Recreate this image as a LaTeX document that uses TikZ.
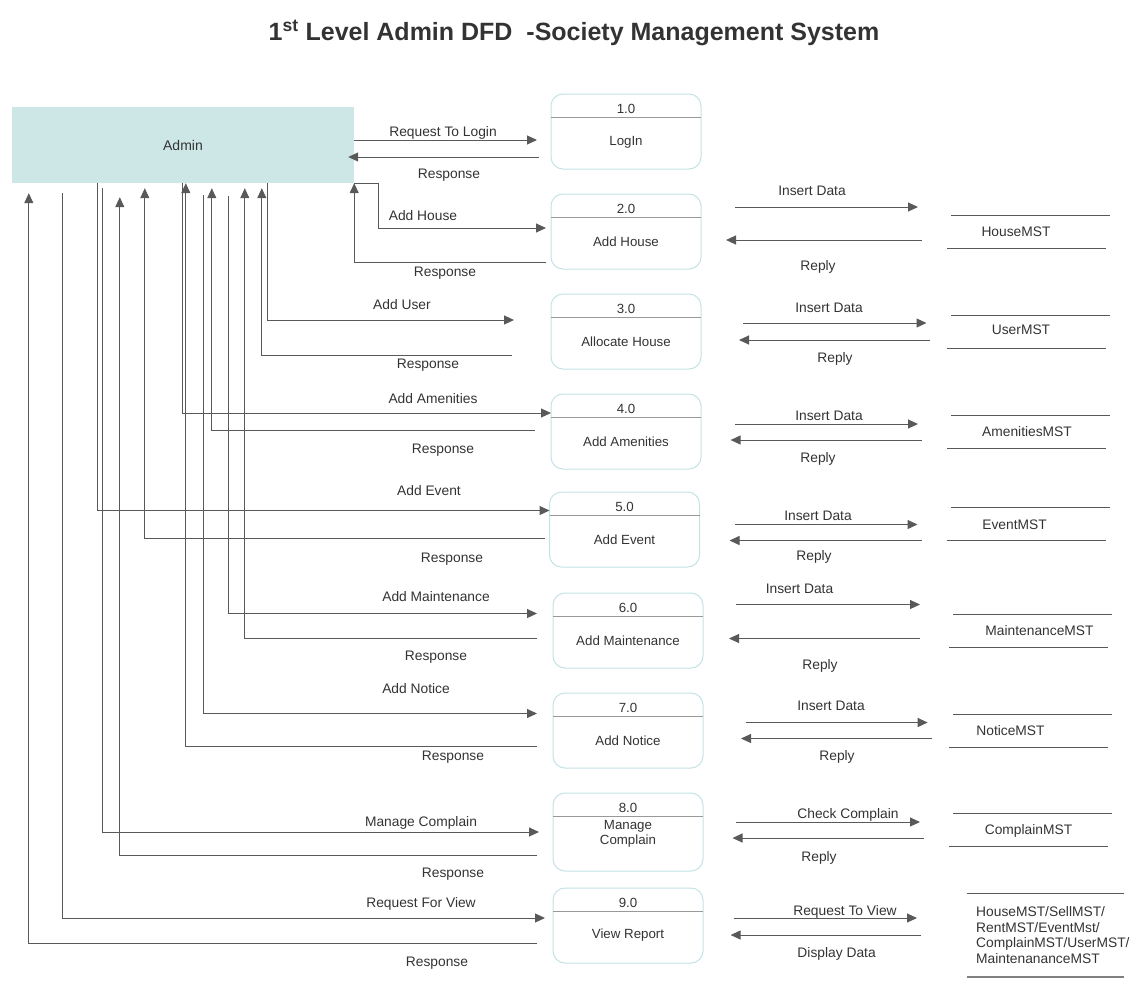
\documentclass[tikz,border=0pt]{standalone}
\usepackage{fontspec}
\setmainfont{Liberation Sans}
\usetikzlibrary{arrows.meta}
\usetikzlibrary{positioning}

\definecolor{adminfill}{RGB}{205,231,231}
\definecolor{procedge}{RGB}{196,226,228}
\definecolor{linegray}{RGB}{89,89,89}
\definecolor{textgray}{RGB}{51,51,51}

\tikzset{
  entity/.style={fill=adminfill,minimum width=342pt,minimum height=76pt,inner sep=0pt,
    font=\fontsize{14}{16}\selectfont,text=textgray},
  process/.style={draw=procedge,line width=1pt,rounded corners=12pt,minimum width=150pt,
    minimum height=75pt,inner sep=0pt,outer sep=0pt},
  proctext/.style={font=\fontsize{13.3}{15}\selectfont,text=textgray,inner sep=0pt,align=center},
  store/.style={minimum width=159pt,minimum height=33pt,inner sep=0pt,outer sep=0pt},
  flow/.style={draw=linegray,line width=1pt,-{Triangle[length=10pt,width=9pt]}},
  storeline/.style={draw=linegray,line width=1pt},
  divider/.style={draw=gray!80,line width=1pt},
  lbl/.style={font=\fontsize{13.8}{16}\selectfont,text=textgray,inner sep=0pt,
    text height=10pt,text depth=0pt},
}

\begin{document}
\begin{tikzpicture}[x=1pt,y=-1pt]
\useasboundingbox (0,0) rectangle (1143,989);

\node[font=\fontsize{25}{28}\selectfont\bfseries,text=textgray] (title) at (574,33)
  {1\textsuperscript{st} Level Admin DFD\ \ -Society Management System};

% external entity
\node[entity] (admin) at (183,145) {Admin};

% processes
\node[process] (p1) at (626,131.5) {};
\node[process] (p2) [below=25pt of p1] {};
\node[process] (p3) [below=25pt of p2] {};
\node[process] (p4) [below=25pt of p3] {};
\node[process] (p5) [below=23pt of p4, xshift=-1.5pt] {};
\node[process] (p6) [below=26pt of p5, xshift=3.5pt] {};
\node[process] (p7) [below=25pt of p6] {};
\node[process,minimum height=78pt] (p8) [below=25pt of p7] {};
\node[process] (p9) [below=17pt of p8] {};

\node[proctext] (n1) at ([yshift=-14.5pt]p1.north) {1.0};
\node[proctext] (n2) at ([yshift=-14.5pt]p2.north) {2.0};
\node[proctext] (n3) at ([yshift=-14.5pt]p3.north) {3.0};
\node[proctext] (n4) at ([yshift=-14.5pt]p4.north) {4.0};
\node[proctext] (n5) at ([yshift=-14.5pt]p5.north) {5.0};
\node[proctext] (n6) at ([yshift=-14.5pt]p6.north) {6.0};
\node[proctext] (n7) at ([yshift=-14.5pt]p7.north) {7.0};
\node[proctext] (n8) at ([yshift=-14.5pt]p8.north) {8.0};
\node[proctext] (n9) at ([yshift=-14.5pt]p9.north) {9.0};

\draw[divider] ([yshift=-23.5pt]p1.north west) -- ([yshift=-23.5pt]p1.north east);
\draw[divider] ([yshift=-23.5pt]p2.north west) -- ([yshift=-23.5pt]p2.north east);
\draw[divider] ([yshift=-23.5pt]p3.north west) -- ([yshift=-23.5pt]p3.north east);
\draw[divider] ([yshift=-23.5pt]p4.north west) -- ([yshift=-23.5pt]p4.north east);
\draw[divider] ([yshift=-23.5pt]p5.north west) -- ([yshift=-23.5pt]p5.north east);
\draw[divider] ([yshift=-23.5pt]p6.north west) -- ([yshift=-23.5pt]p6.north east);
\draw[divider] ([yshift=-23.5pt]p7.north west) -- ([yshift=-23.5pt]p7.north east);
\draw[divider] ([yshift=-23.5pt]p8.north west) -- ([yshift=-23.5pt]p8.north east);
\draw[divider] ([yshift=-23.5pt]p9.north west) -- ([yshift=-23.5pt]p9.north east);

\node[proctext] (t1) at ([yshift=-48pt]p1.north) {LogIn};
\node[proctext] (t2) at ([yshift=-48pt]p2.north) {Add House};
\node[proctext] (t3) at ([yshift=-48pt]p3.north) {Allocate House};
\node[proctext] (t4) at ([yshift=-48pt]p4.north) {Add Amenities};
\node[proctext] (t5) at ([yshift=-48pt]p5.north) {Add Event};
\node[proctext] (t6) at ([yshift=-48pt]p6.north) {Add Maintenance};
\node[proctext] (t7) at ([yshift=-48pt]p7.north) {Add Notice};
\node[proctext] (t8) at ([yshift=-41pt]p8.north) {Manage\\Complain};
\node[proctext] (t9) at ([yshift=-47pt]p9.north) {View Report};

% data stores
\node[store] (s2) [right=248pt of p2] {};
\node[store] (s3) [right=248pt of p3] {};
\node[store] (s4) [right=248pt of p4] {};
\node[store] (s5) [right=249pt of p5, yshift=5.5pt] {};
\node[store] (s6) [right=248pt of p6] {};
\node[store] (s7) [right=248pt of p7] {};
\node[store] (s8) [right=248pt of p8, yshift=2.5pt] {};
\node[store,minimum width=157pt,minimum height=84pt] (s9) [right=263.7pt of p9, yshift=-9.5pt] {};

\draw[storeline] ([xshift=2pt]s2.north west) -- ([xshift=2pt]s2.north east);
\draw[storeline] ([xshift=-2pt]s2.south west) -- ([xshift=-2pt]s2.south east);
\draw[storeline] ([xshift=2pt]s3.north west) -- ([xshift=2pt]s3.north east);
\draw[storeline] ([xshift=-2pt]s3.south west) -- ([xshift=-2pt]s3.south east);
\draw[storeline] ([xshift=2pt]s4.north west) -- ([xshift=2pt]s4.north east);
\draw[storeline] ([xshift=-2pt]s4.south west) -- ([xshift=-2pt]s4.south east);
\draw[storeline] ([xshift=2pt]s5.north west) -- ([xshift=2pt]s5.north east);
\draw[storeline] ([xshift=-2pt]s5.south west) -- ([xshift=-2pt]s5.south east);
\draw[storeline] ([xshift=2pt]s6.north west) -- ([xshift=2pt]s6.north east);
\draw[storeline] ([xshift=-2pt]s6.south west) -- ([xshift=-2pt]s6.south east);
\draw[storeline] ([xshift=2pt]s7.north west) -- ([xshift=2pt]s7.north east);
\draw[storeline] ([xshift=-2pt]s7.south west) -- ([xshift=-2pt]s7.south east);
\draw[storeline] ([xshift=2pt]s8.north west) -- ([xshift=2pt]s8.north east);
\draw[storeline] ([xshift=-2pt]s8.south west) -- ([xshift=-2pt]s8.south east);
\draw[storeline] (s9.north west) -- (s9.north east);
\draw[storeline,draw=gray,line width=1.6pt] (s9.south west) -- (s9.south east);

\node[lbl] (m2) at ([xshift=-12.5pt]s2.center) {HouseMST};
\node[lbl] (m3) at ([xshift=-7.5pt,yshift=2.5pt]s3.center) {UserMST};
\node[lbl] (m4) at ([xshift=-1.5pt]s4.center) {AmenitiesMST};
\node[lbl] (m5) at ([xshift=-13.5pt]s5.center) {EventMST};
\node[lbl] (m6) at ([xshift=9pt]s6.center) {MaintenanceMST};
\node[lbl] (m7) at ([xshift=-20pt]s7.center) {NoticeMST};
\node[lbl] (m8) at ([xshift=-2pt]s8.center) {ComplainMST};
\node[lbl,text height=,text depth=,align=left,anchor=west,font=\fontsize{13.8}{15.7}\selectfont]
  (m9) at ([xshift=9.3pt]s9.west)
  {HouseMST/SellMST/\\RentMST/EventMst/\\ComplainMST/UserMST/\\MaintenananceMST};

% admin <-> processes
\draw[flow] ([yshift=5pt]admin.east) -- ([xshift=-14pt,yshift=-8.5pt]p1.west);
\draw[flow] ([xshift=-12pt,yshift=-25.5pt]p1.west) -- ([xshift=-6pt,yshift=-12pt]admin.east);
\draw[flow] (admin.south east) -- ++(24pt,0) |- ([xshift=-5pt,yshift=3.5pt]p2.west);
\draw[flow] ([xshift=-5pt,yshift=-30.5pt]p2.west) -| (admin.south east);
\draw[flow] ([xshift=256pt]admin.south west) |- ([xshift=-37pt,yshift=11.5pt]p3.west);
\draw[flow] ([xshift=-39pt,yshift=-23.5pt]p3.west) -| ([xshift=250pt,yshift=-5pt]admin.south west);
\draw[flow] ([xshift=171pt]admin.south west) |- ([yshift=18.5pt]p4.west);
\draw[flow] ([xshift=-16pt,yshift=1.5pt]p4.west) -| ([xshift=200pt,yshift=-5pt]admin.south west);
\draw[flow] ([xshift=86pt]admin.south west) |- ([yshift=19pt]p5.west);
\draw[flow] ([xshift=-5pt,yshift=-9pt]p5.west) -| ([xshift=133pt,yshift=-5pt]admin.south west);
\draw[flow] ([xshift=217pt,yshift=-13pt]admin.south west) |- ([xshift=-16pt,yshift=17pt]p6.west);
\draw[flow] ([xshift=-16pt,yshift=-8pt]p6.west) -| ([xshift=233pt,yshift=-5pt]admin.south west);
\draw[flow] ([xshift=192pt,yshift=-12pt]admin.south west) |- ([xshift=-16pt,yshift=17pt]p7.west);
\draw[flow] ([xshift=-16pt,yshift=-16pt]p7.west) -| ([xshift=174pt]admin.south west);
\draw[flow] ([xshift=91pt,yshift=-5pt]admin.south west) |- ([xshift=-14pt]p8.west);
\draw[flow] ([xshift=-16pt,yshift=-23pt]p8.west) -| ([xshift=108pt,yshift=-14pt]admin.south west);
\draw[flow] ([xshift=51pt,yshift=-10pt]admin.south west) |- ([xshift=-8pt,yshift=7.5pt]p9.west);
\draw[flow] ([xshift=-16pt,yshift=-17.5pt]p9.west) -| ([xshift=17pt,yshift=-10pt]admin.south west);

\node[lbl] (in1) at (443,131) {Request To Login};
\node[lbl] (out1) at (449,173) {Response};
\node[lbl] (in2) at (423,215) {Add House};
\node[lbl] (out2) at (445,271) {Response};
\node[lbl] (in3) at (402,304) {Add User};
\node[lbl] (out3) at (428,363) {Response};
\node[lbl] (in4) at (433,398) {Add Amenities};
\node[lbl] (out4) at (443,448) {Response};
\node[lbl] (in5) at (429,490) {Add Event};
\node[lbl] (out5) at (452,557) {Response};
\node[lbl] (in6) at (436,596) {Add Maintenance};
\node[lbl] (out6) at (436,655) {Response};
\node[lbl] (in7) at (416,688) {Add Notice};
\node[lbl] (out7) at (453,755) {Response};
\node[lbl] (in8) at (421,821) {Manage Complain};
\node[lbl] (out8) at (453,872) {Response};
\node[lbl] (in9) at (421,902) {Request For View};
\node[lbl] (out9) at (437,961) {Response};

% processes <-> data stores
\draw[flow] ([xshift=34pt,yshift=24.5pt]p2.east) -- ([xshift=-31pt,yshift=24.5pt]s2.west);
\draw[flow] ([xshift=-27pt,yshift=-8.5pt]s2.west) -- ([xshift=25pt,yshift=-8.5pt]p2.east);
\draw[flow] ([xshift=42pt,yshift=8.5pt]p3.east) -- ([xshift=-22.5pt,yshift=8.5pt]s3.west);
\draw[flow] ([xshift=-19pt,yshift=-8.5pt]s3.west) -- ([xshift=38pt,yshift=-8.5pt]p3.east);
\draw[flow] ([xshift=34pt,yshift=7.5pt]p4.east) -- ([xshift=-31pt,yshift=7.5pt]s4.west);
\draw[flow] ([xshift=-27pt,yshift=-8.5pt]s4.west) -- ([xshift=29.6pt,yshift=-8.5pt]p4.east);
\draw[flow] ([xshift=35pt,yshift=5pt]p5.east) -- ([xshift=-31pt,yshift=-0.5pt]s5.west);
\draw[flow] ([xshift=-27pt,yshift=-16.5pt]s5.west) -- ([xshift=30pt,yshift=-11pt]p5.east);
\draw[flow] ([xshift=33pt,yshift=26pt]p6.east) -- ([xshift=-31pt,yshift=26pt]s6.west);
\draw[flow] ([xshift=-31pt,yshift=-8pt]s6.west) -- ([xshift=26pt,yshift=-8pt]p6.east);
\draw[flow] ([xshift=42.5pt,yshift=8pt]p7.east) -- ([xshift=-23.3pt,yshift=8pt]s7.west);
\draw[flow] ([xshift=-19pt,yshift=-8pt]s7.west) -- ([xshift=38pt,yshift=-8pt]p7.east);
\draw[flow] ([xshift=33pt,yshift=10pt]p8.east) -- ([xshift=-31pt,yshift=7.5pt]s8.west);
\draw[flow] ([xshift=-27pt,yshift=-8.5pt]s8.west) -- ([xshift=29.5pt,yshift=-6pt]p8.east);
\draw[flow] ([xshift=30.6pt,yshift=7.5pt]p9.east) -- ([xshift=-49.7pt,yshift=17pt]s9.west);
\draw[flow] ([xshift=-45.7pt]s9.west) -- ([xshift=27.6pt,yshift=-9.5pt]p9.east);

\node[lbl] (ins2) at (812,190) {Insert Data};
\node[lbl] (rep2) at (818,265) {Reply};
\node[lbl] (ins3) at (829,307) {Insert Data};
\node[lbl] (rep3) at (835,357) {Reply};
\node[lbl] (ins4) at (829,415) {Insert Data};
\node[lbl] (rep4) at (818,457) {Reply};
\node[lbl] (ins5) at (818,515) {Insert Data};
\node[lbl] (rep5) at (814,555) {Reply};
\node[lbl] (ins6) at (799.5,588) {Insert Data};
\node[lbl] (rep6) at (820,664) {Reply};
\node[lbl] (ins7) at (831,705) {Insert Data};
\node[lbl] (rep7) at (837,755) {Reply};
\node[lbl] (ins8) at (848,813) {Check Complain};
\node[lbl] (rep8) at (819,856) {Reply};
\node[lbl] (ins9) at (845,910) {Request To View};
\node[lbl] (rep9) at (836.6,952) {Display Data};
\end{tikzpicture}
\end{document}
